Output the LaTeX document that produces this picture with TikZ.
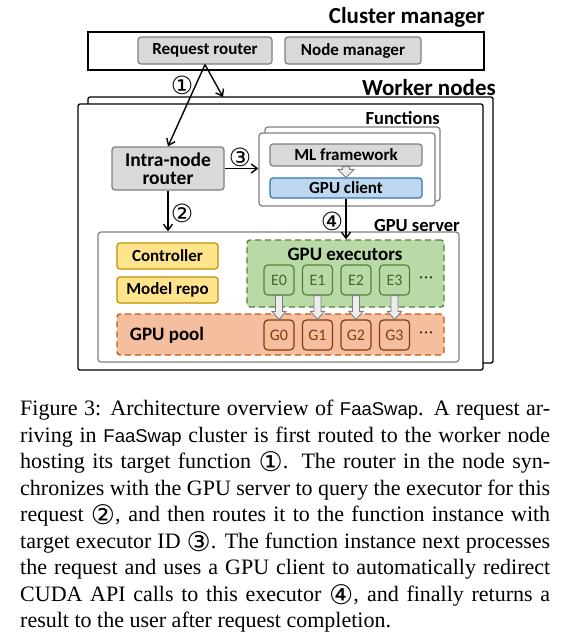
\documentclass[tikz,border=0pt]{standalone}
\usepackage{fontspec}
\setmainfont{Carlito}
\newfontfamily\capfont{Liberation Serif}
\newfontfamily\codefont{Liberation Sans}
\newfontfamily\numfont{DejaVu Sans}
\usetikzlibrary{positioning,arrows.meta,calc}
\definecolor{boxgray}{RGB}{217,217,217}
\definecolor{linegray}{RGB}{127,127,127}
\definecolor{clientblue}{RGB}{189,215,238}
\definecolor{clientedge}{RGB}{46,117,182}
\definecolor{ctrlyellow}{RGB}{255,228,140}
\definecolor{ctrledge}{RGB}{191,144,0}
\definecolor{execgreen}{RGB}{185,218,166}
\definecolor{execedge}{RGB}{84,130,53}
\definecolor{poolorange}{RGB}{245,190,158}
\definecolor{pooledge}{RGB}{197,90,17}
\definecolor{gpuedge}{RGB}{132,60,12}
\newcommand{\fs}[1]{\fontsize{#1}{#1}\selectfont}
\newcommand{\circnum}[1]{{\numfont\fs{27}\raisebox{-3pt}{#1}}}
% hollow block arrow pointing down, from #2 to #3, half head width #1
\newcommand{\hollowdown}[3][7]{%
  \draw[hollow] ($(#2)+(-3.5,0)$) -- ($(#3)+(-3.5,-8)$) -- ($(#3)+(-#1,-8)$)
    -- (#3) -- ($(#3)+(#1,-8)$) -- ($(#3)+(3.5,-8)$) -- ($(#2)+(3.5,0)$) -- cycle;}
\tikzset{
  outer/.style  = {rectangle, draw, line width=1.3pt, fill=white, inner sep=0pt},
  panel/.style  = {rectangle, draw=linegray, line width=1.2pt,
                   rounded corners=3pt, fill=white, inner sep=0pt},
  box/.style    = {rectangle, draw=linegray, line width=1.2pt,
                   rounded corners=3pt, fill=boxgray, inner sep=0pt,
                   align=center, font=\bfseries\fs{17}},
  client/.style = {box, draw=clientedge, fill=clientblue},
  ctrl/.style   = {box, draw=ctrledge, fill=ctrlyellow,
                   minimum width=101pt, minimum height=26pt},
  group/.style  = {rectangle, line width=1.4pt, rounded corners=3pt,
                   dash pattern=on 6pt off 4pt, inner sep=0pt},
  ebox/.style   = {rectangle, draw=execedge, fill=execgreen, line width=1.2pt,
                   rounded corners=4pt, minimum size=30pt, inner sep=0pt,
                   text=execedge!80!black, font=\fs{16}},
  gbox/.style   = {ebox, draw=gpuedge, fill=poolorange, text=gpuedge},
  title/.style  = {font=\bfseries\fs{23}, inner sep=0pt},
  lab/.style    = {font=\numfont\fs{25}, inner sep=0pt},
  arr/.style    = {-{Straight Barb[length=6pt,width=9pt]}, line width=1.4pt},
  hollow/.style = {draw=linegray, fill=white!93!black, line width=0.9pt}
}
\begin{document}
\begin{tikzpicture}[x=1pt,y=-1pt]
  \useasboundingbox (0,0) rectangle (572,640);

  % cluster manager
  \node[title, anchor=east] (cmt) at (485,17) {Cluster manager};
  \node[outer, minimum width=396pt, minimum height=38pt] (cm) at (286,51) {};
  \node[box, minimum width=134pt, minimum height=27pt] (rr) at (205,50.5) {Request router};
  \node[box, minimum width=136pt, minimum height=27pt] (nm) at (353,50.5) {Node manager};

  % worker nodes
  \node[title, anchor=east] (wkt) at (496,88) {Worker nodes};
  \node[outer, minimum width=405pt, minimum height=266pt, rounded corners=2pt] (wkback) at (290.5,230) {};
  \node[outer, minimum width=405pt, minimum height=266pt, rounded corners=2pt] (wk) at (280.5,237) {};
  \coordinate (wkin) at (223,97);

  % functions
  \node[title, anchor=east, font=\bfseries\fs{18.5}] (fnt) at (440,118) {Functions};
  \node[panel, minimum width=175pt, minimum height=74pt] (fnback) at (352.5,164) {};
  \node[panel, minimum width=176pt, minimum height=73pt] (fn) at (347,169.5) {};
  \node[box, minimum width=152pt, minimum height=22pt] (ml) at (346,155) {ML framework};
  \node[client, minimum width=152pt, minimum height=20pt] (gc) at (346,188) {GPU client};
  \hollowdown[8]{ml.south}{gc.north}

  \node[box, minimum width=112pt, minimum height=43pt, font=\bfseries\fs{19.5}] (inr)
    at (168,168.5) {Intra-node\\[-1pt]router};

  % GPU server
  \node[title, anchor=east, font=\bfseries\fs{18.5}] (gst) at (460,225) {GPU server};
  \node[panel, minimum width=361pt, minimum height=130pt] (gs) at (278.5,297) {};
  \node[ctrl] (ctrl) at (167.5,256) {Controller};
  \node[ctrl] (repo) at (167.5,290) {Model repo};
  \node[group, draw=execedge, fill=execgreen, minimum width=197pt, minimum height=67pt] (ex) at (345.5,273.5) {};
  \node[group, draw=pooledge, fill=poolorange, minimum width=327pt, minimum height=41pt] (pool) at (280.5,334.5) {};
  \node[font=\bfseries\fs{19}] (ext) at (345,254) {GPU executors};
  \node[font=\bfseries\fs{19}] (poolt) at (167,335) {GPU pool};
  \foreach \i in {0,...,3}{
    \node[ebox] (e\i) at (279+38.5*\i,280) {E\i};
    \node[gbox] (g\i) at (279+38.5*\i,335) {G\i};
    \hollowdown{e\i.south}{g\i.north}
  }
  \node[font=\numfont\fs{15}] (edots) at (426,280) {⋯};
  \node[font=\numfont\fs{15}] (gdots) at (426,335) {⋯};

  % request path
  \draw[arr] (rr.south) -- (wkin);
  \draw[arr] (rr.south) -- (inr.north);
  \draw[arr] (inr.east) -- (fn.west |- inr.east);
  \draw[arr] (inr.south) -- (inr.south |- gs.north);
  \draw[arr] (gc.south) -- (gc.south |- ex.north);
  \node[lab] (s1) at (182,85) {①};
  \node[lab] (s2) at (182,213) {②};
  \node[lab] (s3) at (240,157) {③};
  \node[lab] (s4) at (332,221) {④};

  % caption
  \node[anchor=north west, inner sep=0pt, align=left,
        font=\capfont\fontsize{22}{26.5}\selectfont] (cap) at (20,400) {%
    \makebox[530pt][s]{Figure 3: Architecture overview of {\codefont\fs{18.5}FaaSwap}. A request ar-}\\
    \makebox[530pt][s]{riving in {\codefont\fs{18.5}FaaSwap} cluster is first routed to the worker node}\\
    \makebox[530pt][s]{hosting its target function \circnum{①}. The router in the node syn-}\\
    \makebox[530pt][s]{chronizes with the GPU server to query the executor for this}\\
    \makebox[530pt][s]{request \circnum{②}, and then routes it to the function instance with}\\
    \makebox[530pt][s]{target executor ID \circnum{③}. The function instance next processes}\\
    \makebox[530pt][s]{the request and uses a GPU client to automatically redirect}\\
    \makebox[530pt][s]{CUDA API calls to this executor \circnum{④}, and finally returns a}\\
    result to the user after request completion.};
\end{tikzpicture}
\end{document}
